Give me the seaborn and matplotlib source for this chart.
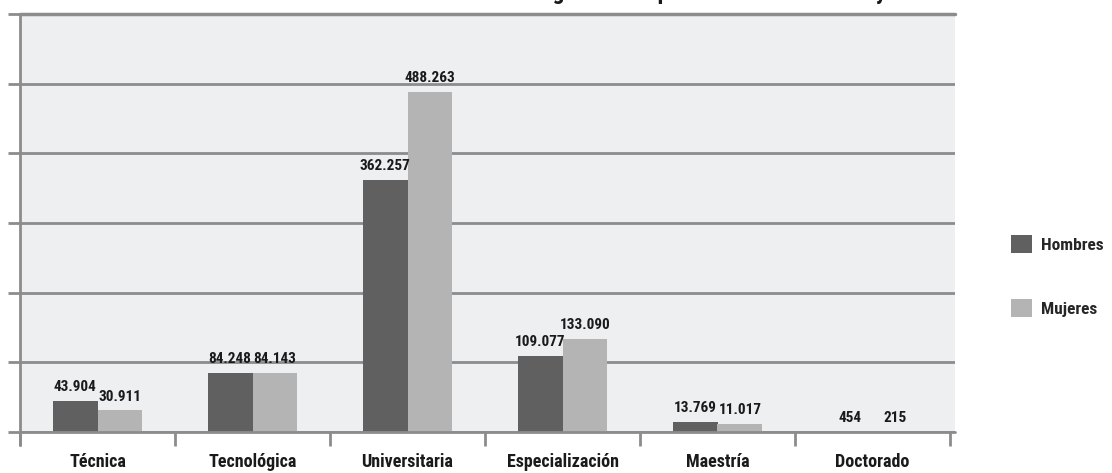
import matplotlib
matplotlib.use("Agg")
import matplotlib.pyplot as plt
from matplotlib.patches import Patch
from matplotlib import font_manager
import seaborn as sns
import pandas as pd
import numpy as np

categories = ["Técnica", "Tecnológica", "Universitaria", "Especialización", "Maestría", "Doctorado"]
hombres = [43904, 84248, 362257, 109077, 13769, 454]
mujeres = [30911, 84143, 488263, 133090, 11017, 215]
series_names = ["Hombres", "Mujeres"]
title = "Número de graduados por nivel de formación y sexo"

df = pd.DataFrame({
    "nivel": categories * 2,
    "sexo": [series_names[0]] * len(categories) + [series_names[1]] * len(categories),
    "valor": hombres + mujeres,
})

sns.set_theme(style="white")


def has_font(name):
    try:
        font_manager.findfont(font_manager.FontProperties(family=name),
                              fallback_to_default=False)
        return True
    except Exception:
        return False


narrow = None
for cand in ["Liberation Sans Narrow", "DejaVu Sans Condensed", "Roboto Condensed",
             "Open Sans Condensed"]:
    if has_font(cand):
        narrow = cand
        break

if narrow:
    FONT = [narrow, "DejaVu Sans"]
    cat_size, val_size, leg_size, title_size = 13, 11, 12.5, 17
else:
    FONT = ["Liberation Sans", "DejaVu Sans"]
    cat_size, val_size, leg_size, title_size = 11.5, 9, 11.5, 15
plt.rcParams["font.family"] = FONT

dark = "#606060"
light = "#b4b4b4"
grid_c = "#8c8c8c"

fig = plt.figure(figsize=(11.12, 4.73), dpi=100)
ax = fig.add_axes([20 / 1112, 1 - 432 / 473, (955 - 20) / 1112, (432 - 14) / 473])
ax.set_facecolor("#eeeff1")

sns.barplot(data=df, x="nivel", y="valor", hue="sexo", order=categories,
            hue_order=series_names, palette=[dark, light], width=0.58,
            saturation=1, ax=ax, legend=False, linewidth=0, errorbar=None)

ax.set_xlim(-0.5, 5.5 + 5 / 155)
ax.set_ylim(0, 600000)

# gridlines
ax.set_yticks(np.arange(0, 600001, 100000))
ax.yaxis.grid(True, color=grid_c, linewidth=2)
ax.set_axisbelow(True)
ax.tick_params(axis="y", which="major", direction="out", length=9, width=2,
               color=grid_c, labelleft=False, left=True)

for s in ["top", "right", "bottom", "left"]:
    ax.spines[s].set_visible(False)

# left axis line extending below the base
ax.plot([-0.5, -0.5], [-13 / 418 * 600000, 600000], color=grid_c, lw=2,
        clip_on=False, zorder=5)
ax.axhline(0, color=grid_c, lw=2, zorder=5, clip_on=False)
ax.axhline(600000, color=grid_c, lw=2.5, zorder=5, clip_on=False)

# category ticks between groups
ax.set_xticks(range(len(categories)))
ax.set_xticklabels(categories, fontsize=cat_size, fontweight="bold", color="#1a1a1a")
ax.set_xticks(np.arange(-0.5, 6, 1.0), minor=True)
ax.tick_params(axis="x", which="major", length=0, pad=15)
ax.tick_params(axis="x", which="minor", direction="out", length=10, width=2,
               color=grid_c, bottom=True)
ax.set_xlabel("")
ax.set_ylabel("")

# value labels
for cont, vals in zip(ax.containers, [hombres, mujeres]):
    labels = [f"{v:,}".replace(",", ".") for v in vals]
    ax.bar_label(cont, labels=labels, padding=5, fontsize=val_size,
                 fontweight="bold", color="#1a1a1a")

# legend
handles = [Patch(facecolor=dark, edgecolor="none"), Patch(facecolor=light, edgecolor="none")]
fig.legend(handles, series_names, loc="center left", bbox_to_anchor=(1011 / 1112, 1 - 276 / 473),
           frameon=False, borderpad=0, borderaxespad=0, labelspacing=2.7,
           handlelength=1.2, handleheight=1.2, handletextpad=0.5,
           prop={"family": FONT, "weight": "bold", "size": leg_size})

# title, cut off at the top edge as in the reference
fig.text(690 / 1112, 1 + 1 / 473, title, ha="center", va="baseline",
         fontsize=title_size, fontweight="bold", color="#1a1a1a")

fig.savefig("out.png", dpi=100)
